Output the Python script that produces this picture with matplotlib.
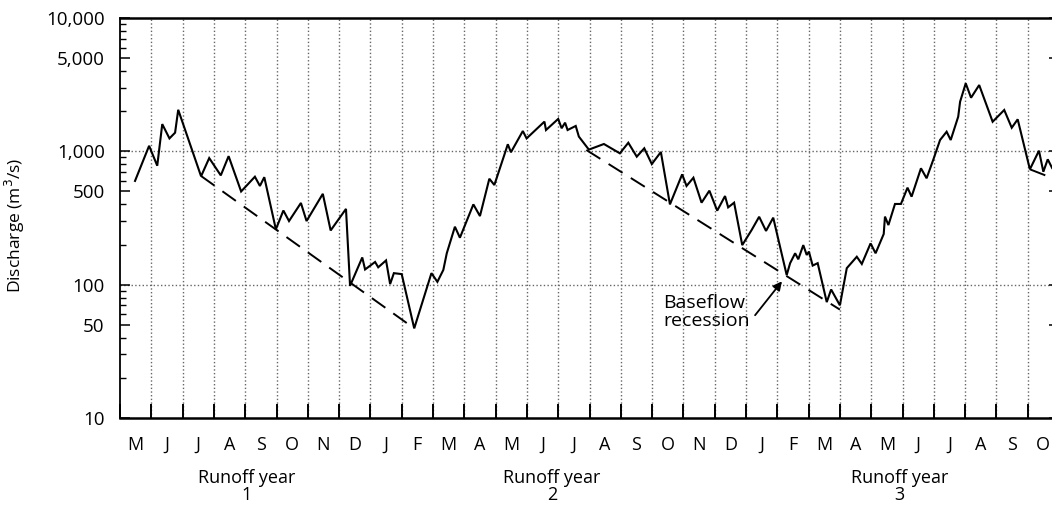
import numpy as np
import matplotlib.pyplot as plt
from matplotlib.ticker import FixedLocator, NullFormatter

plt.rcParams['font.family'] = ['Open Sans', 'DejaVu Sans']

# time in months from start of record (May, year 1) and discharge in m3/s
months = [0.48, 0.93, 1.19, 1.35, 1.58, 1.76, 1.86, 2.59, 2.85, 3.22, 3.47, 3.87,
          4.31, 4.47, 4.61, 4.98, 5.22, 5.40, 5.78, 5.96, 6.48, 6.73, 7.22, 7.35,
          7.74, 7.83, 8.15, 8.25, 8.50, 8.63, 8.75, 9.00, 9.40, 9.95, 10.14, 10.33,
          10.44, 10.70, 10.86, 11.29, 11.50, 11.80, 11.96, 12.27, 12.39, 12.49, 12.87,
          12.99, 13.56, 13.61, 14.00, 14.11, 14.22, 14.30, 14.56, 14.66, 14.98, 15.46,
          15.97, 16.24, 16.51, 16.75, 16.99, 17.28, 17.57, 17.96, 18.10, 18.32, 18.58,
          18.83, 19.08, 19.33, 19.43, 19.62, 19.88, 20.18, 20.42, 20.64, 20.87, 21.30,
          21.41, 21.57, 21.67, 21.83, 21.94, 22.01, 22.13, 22.29, 22.58, 22.72, 23.00,
          23.22, 23.54, 23.70, 23.98, 24.14, 24.40, 24.44, 24.55, 24.76, 24.95, 25.16,
          25.29, 25.59, 25.77, 25.98, 26.20, 26.41, 26.54, 26.78, 26.84, 27.02, 27.19,
          27.45, 27.88, 28.25, 28.49, 28.68, 29.07, 29.36, 29.50, 29.64, 29.78]
discharge = [600, 1100, 780, 1600, 1250, 1380, 2050, 650, 890, 660, 920, 500,
             645, 550, 640, 260, 360, 300, 410, 300, 480, 255, 370, 98,
             160, 130, 148, 135, 152, 101, 122, 120, 47, 122, 105, 129,
             172, 272, 225, 400, 327, 623, 559, 927, 1130, 984, 1420,
             1250, 1670, 1445, 1750, 1490, 1640, 1445, 1550, 1290, 1030, 1135,
             966, 1160, 912, 1054, 803, 988, 400, 672, 550, 634, 412,
             507, 359, 462, 380, 412, 198, 257, 323, 253, 318, 118,
             145, 172, 155, 198, 167, 177, 139, 145, 74, 92, 70,
             133, 162, 143, 204, 172, 240, 324, 280, 403, 403, 534,
             457, 746, 628, 861, 1216, 1403, 1216, 1820, 2355, 3236, 2524,
             3141, 1667, 2042, 1503, 1738, 733, 1011, 703, 871, 750]

# baseflow recession lines: start/end month and discharge
recession_months = [[2.59, 9.40], [14.90, 23.00], [29.07, 29.78]]
recession_flow = [[653, 47], [1023, 65], [733, 631]]

month_labels = list("MJJASONDJFMAMJJASONDJFMAMJJASO")
runoff_years = ["1", "2", "3"]
runoff_year_pos = [4.05, 13.8, 24.9]
ytick_values = [10, 50, 100, 500, 1000, 5000, 10000]
ytick_labels = ['10', '50', '100', '500', '1,000', '5,000', '10,000']

fig = plt.figure(figsize=(10.52, 5.07), dpi=100)
ax = fig.add_axes([120 / 1052, 89 / 507, 939 / 1052, 400 / 507])

ax.plot(months, discharge, color='black', lw=1.5, solid_joinstyle='miter', zorder=3)
for xm, yq in zip(recession_months, recession_flow):
    ax.plot(xm, yq, color='black', lw=1.4, dashes=(8.5, 5), zorder=3)

ax.set_yscale('log')
ax.set_ylim(10, 10000)
ax.set_xlim(0, 30)

# month boundaries as ticks + vertical dotted grid
ax.xaxis.set_major_locator(FixedLocator(np.arange(0, 31)))
ax.xaxis.set_major_formatter(NullFormatter())
ax.xaxis.set_minor_locator(FixedLocator(np.arange(30) + 0.5))
ax.set_xticklabels(month_labels, minor=True)
ax.tick_params(axis='x', which='major', direction='in', length=10, width=1.4)
ax.tick_params(axis='x', which='minor', length=0, pad=13, labelsize=13)
for b in range(1, 30):
    ax.axvline(b, color='#666666', ls=':', lw=1.0, zorder=1)

ax.yaxis.set_major_locator(FixedLocator(ytick_values))
ax.set_yticklabels(ytick_labels)
minor_y = [m * d for d in (10, 100, 1000) for m in (2, 3, 4, 6, 7, 8, 9)]
ax.yaxis.set_minor_locator(FixedLocator(minor_y))
ax.yaxis.set_minor_formatter(NullFormatter())
ax.tick_params(axis='y', which='major', direction='in', length=7, width=1.1,
               pad=11, labelsize=13.5, right=True)
ax.tick_params(axis='y', which='minor', direction='in', length=4.5, width=1.0)
for h in (100, 1000):
    ax.axhline(h, color='#666666', ls=':', lw=1.0, zorder=1)

for side in ['top', 'bottom']:
    ax.spines[side].set_linewidth(1.8)
ax.spines['left'].set_linewidth(1.3)
ax.spines['right'].set_linewidth(1.3)

for pos, yr in zip(runoff_year_pos, runoff_years):
    ax.text(pos, -0.172, "Runoff year\n" + yr, transform=ax.get_xaxis_transform(),
            ha='center', va='center', fontsize=13, linespacing=0.95)

fig.text(15 / 1052, 1 - 225 / 507, "Discharge (m$^3$/s)", rotation=90,
         ha='center', va='center', fontsize=12.5)

ax.annotate("", xy=(21.15, 106), xytext=(20.29, 59),
            arrowprops=dict(arrowstyle='-|>', color='black', lw=1.3,
                            mutation_scale=13, shrinkA=0, shrinkB=0))
ax.text(17.35, 62, "Baseflow\nrecession", ha='left', va='center', fontsize=14,
        linespacing=1.0)

fig.savefig("out.png", dpi=100)
